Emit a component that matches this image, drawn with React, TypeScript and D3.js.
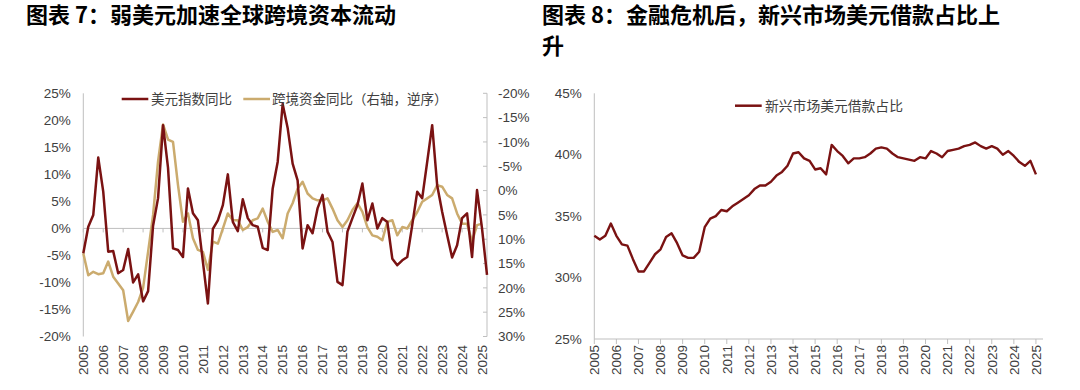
import React from "react";
import * as d3 from "d3";

// ---------- data (quarterly, starting 2005Q1) ----------
const startYear = 2005;
const xTickLabels = ["2005","2006","2007","2008","2009","2010","2011","2012","2013","2014","2015","2016","2017","2018","2019","2020","2021","2022","2023","2024","2025"];
const leftAxisTicks = [25, 20, 15, 10, 5, 0, -5, -10, -15, -20];
const rightAxisTicks = [-20, -15, -10, -5, 0, 5, 10, 15, 20, 25, 30];
const emAxisTicks = [45, 40, 35, 30, 25];

const seriesNames = ["美元指数同比", "跨境资金同比（右轴，逆序）", "新兴市场美元借款占比"];

// US dollar index YoY (%), left axis
const dxyYoY = [
  -4.6, 0.3, 2.5, 13.1,
  6.8, -4.3, -4.2, -8.3,
  -7.7, -3.8, -10.0, -8.5,
  -13.5, -11.6, 0.5, 5.6,
  19.1, 11.2, -3.7, -4.0,
  -5.3, 7.4, 2.8, 1.5,
  -6.2, -13.9, -0.1, 1.5,
  4.3, 10.0, 1.2, -0.5,
  5.4, 1.9, 0.6, 0.3,
  -3.6, -4.0, 7.4, 12.3,
  23.0, 18.6, 12.0, 8.9,
  -3.7, 0.6, -0.9, 3.7,
  6.2, -0.6, -2.5, -9.9,
  -10.5, -0.6, 1.9, 4.3,
  8.3, 1.5, 4.6, 0.0,
  1.9, 1.2, -5.6, -6.8,
  -5.9, -5.3, 0.6, 6.8,
  5.6, 12.3, 19.1, 8.0,
  3.1, -1.2, -5.4, -3.1,
  1.9, 2.8, -5.3, 7.1,
  0.0, -8.6,
];

// Cross-border capital flows YoY (%), right axis (reversed)
const capitalYoY = [
  12.9, 17.4, 16.7, 17.2,
  17.0, 14.6, 17.7, 19.1,
  20.5, 26.8, 24.9, 22.9,
  20.0, 12.6, 5.0, -6.0,
  -13.6, -10.5, -10.0, -1.1,
  6.4, 4.7, 9.8, 12.2,
  12.6, 16.3, 10.5, 10.9,
  7.8, 4.7, 6.1, 6.1,
  8.1, 7.5, 6.1, 5.7,
  3.7, 6.4, 8.5, 8.1,
  9.8, 4.7, 2.6, -0.4,
  -1.8, 0.6, 1.6, 2.0,
  2.0, 1.6, 3.7, 6.1,
  7.5, 6.1, 4.0, 2.6,
  4.4, 7.5, 9.2, 9.5,
  10.2, 6.4, 6.1, 9.2,
  7.5, 7.8, 6.1, 4.4,
  2.3, 1.6, 0.9, -1.1,
  -0.8, 0.9, 1.6, 4.7,
  6.8, 6.8, 10.5, 7.1,
  6.8,
];

// Emerging markets USD borrowing share (%)
const emUsdShare = [
  33.4, 33.1, 33.4, 34.4,
  33.4, 32.7, 32.6, 31.5,
  30.5, 30.5, 31.2, 31.9,
  32.3, 33.3, 33.6, 32.8,
  31.8, 31.6, 31.6, 32.1,
  34.1, 34.8, 35.0, 35.5,
  35.4, 35.8, 36.1, 36.4,
  36.7, 37.2, 37.5, 37.5,
  37.8, 38.3, 38.6, 39.1,
  40.1, 40.2, 39.7, 39.5,
  38.8, 38.9, 38.4, 40.8,
  40.3, 39.9, 39.3, 39.7,
  39.7, 39.8, 40.1, 40.5,
  40.6, 40.5, 40.1, 39.8,
  39.7, 39.6, 39.5, 39.8,
  39.7, 40.3, 40.1, 39.8,
  40.3, 40.4, 40.5, 40.7,
  40.8, 41.0, 40.7, 40.5,
  40.7, 40.5, 40.0, 40.3,
  39.9, 39.4, 39.1, 39.5,
  38.4,
];

// ---------- styles ----------
const LATIN = "'Liberation Sans', Arial, sans-serif";
const CJK = "'Noto Sans CJK SC', 'Noto Sans', sans-serif";
const RED = "#7a1212";
const GOLD = "#cbab6e";
const AXIS = "#bfbfbf";
const LABEL = "#404040";

const qt = (i: number) => startYear + i * 0.25;

function LeftChart() {
  const x = d3.scaleLinear().domain([2005, 2025.25]).range([83.3, 487]);
  const yL = d3.scaleLinear().domain([-20, 25]).range([336.5, 93.3]);
  const yR = d3.scaleLinear().domain([-20, 30]).range([93.3, 336.5]);
  const lineL = d3.line<number>().x((_, i) => x(qt(i))).y((d) => yL(d));
  const lineR = d3.line<number>().x((_, i) => x(qt(i))).y((d) => yR(d));
  return (
    <g>
      {/* axes */}
      <line x1={x(2005)} x2={x(2005)} y1={yL(25)} y2={yL(-20)} stroke={AXIS} strokeWidth={1} />
      <line x1={x.range()[1]} x2={x.range()[1]} y1={yR(-20)} y2={yR(30)} stroke={AXIS} strokeWidth={1} />
      {rightAxisTicks.map((t) => (
        <line key={"rt" + t} x1={x.range()[1] - 4} x2={x.range()[1]} y1={yR(t)} y2={yR(t)} stroke={AXIS} />
      ))}
      <line x1={x(2005)} x2={x.range()[1]} y1={yL(0)} y2={yL(0)} stroke={AXIS} strokeWidth={1} />
      {xTickLabels.map((l) => (
        <line key={"xt" + l} x1={x(+l)} x2={x(+l)} y1={yL(0)} y2={yL(0) + 4} stroke={AXIS} />
      ))}
      {leftAxisTicks.map((t) => (
        <text key={"lt" + t} x={70.7} y={yL(t)} dy="0.35em" textAnchor="end" fontFamily={LATIN} fontSize={13.5} fill={LABEL}>
          {t + "%"}
        </text>
      ))}
      {rightAxisTicks.map((t) => (
        <text key={"rl" + t} x={498} y={yR(t)} dy="0.35em" textAnchor="start" fontFamily={LATIN} fontSize={13.5} fill={LABEL}>
          {t + "%"}
        </text>
      ))}
      {xTickLabels.map((l) => (
        <text key={"xl" + l} transform={`translate(${x(+l)},345) rotate(-90)`} dy="0.35em" textAnchor="end" fontFamily={LATIN} fontSize={13.5} fill={LABEL}>
          {l}
        </text>
      ))}
      {/* series */}
      <path d={lineR(capitalYoY) || ""} fill="none" stroke={GOLD} strokeWidth={2.5} strokeLinejoin="round" />
      <path d={lineL(dxyYoY) || ""} fill="none" stroke={RED} strokeWidth={2.5} strokeLinejoin="round" />
      {/* legend */}
      <line x1={121.7} x2={148.3} y1={99} y2={99} stroke={RED} strokeWidth={2.5} />
      <text x={151} y={99} dy="0.36em" fontFamily={CJK} fontSize={13.5} fill={LABEL}>{seriesNames[0]}</text>
      <line x1={243.3} x2={270} y1={99} y2={99} stroke={GOLD} strokeWidth={2.5} />
      <text x={272} y={99} dy="0.36em" fontFamily={CJK} fontSize={13.5} fill={LABEL}>{seriesNames[1]}</text>
    </g>
  );
}

function RightChart() {
  const x = d3.scaleLinear().domain([2005, 2025.32]).range([594.3, 1043]);
  const y = d3.scaleLinear().domain([25, 45]).range([339, 93.3]);
  const line = d3.line<number>().x((_, i) => x(qt(i))).y((d) => y(d));
  return (
    <g>
      <line x1={x(2005)} x2={x(2005)} y1={y(45)} y2={y(25)} stroke={AXIS} />
      <line x1={x(2005)} x2={x.range()[1]} y1={y(25)} y2={y(25)} stroke={AXIS} />
      {xTickLabels.map((l) => (
        <line key={"t" + l} x1={x(+l)} x2={x(+l)} y1={y(25)} y2={y(25) + 5} stroke={AXIS} />
      ))}
      {emAxisTicks.map((t) => (
        <text key={"yl" + t} x={581.7} y={y(t)} dy="0.35em" textAnchor="end" fontFamily={LATIN} fontSize={13.5} fill={LABEL}>
          {t + "%"}
        </text>
      ))}
      {xTickLabels.map((l) => (
        <text key={"xl" + l} transform={`translate(${x(+l)},345) rotate(-90)`} dy="0.35em" textAnchor="end" fontFamily={LATIN} fontSize={13.5} fill={LABEL}>
          {l}
        </text>
      ))}
      <path d={line(emUsdShare) || ""} fill="none" stroke={RED} strokeWidth={2.4} strokeLinejoin="round" />
      <line x1={735} x2={761.7} y1={105.7} y2={105.7} stroke={RED} strokeWidth={2.5} />
      <text x={765} y={105.7} dy="0.36em" fontFamily={CJK} fontSize={13.8} fill={LABEL}>{seriesNames[2]}</text>
    </g>
  );
}

export default function App() {
  return (
    <svg width={1080} height={390} style={{ position: "absolute", left: 0, top: 0, background: "#fff" }}>
      <rect width={1080} height={390} fill="#fff" />
      <text x={26} y={23} fontFamily={CJK} fontWeight="bold" fontSize={22} fill="#000">图表 7：弱美元加速全球跨境资本流动</text>
      <text x={542} y={23} fontFamily={CJK} fontWeight="bold" fontSize={22} fill="#000">图表 8：金融危机后，新兴市场美元借款占比上</text>
      <text x={542} y={54} fontFamily={CJK} fontWeight="bold" fontSize={22} fill="#000">升</text>
      <LeftChart />
      <RightChart />
    </svg>
  );
}
